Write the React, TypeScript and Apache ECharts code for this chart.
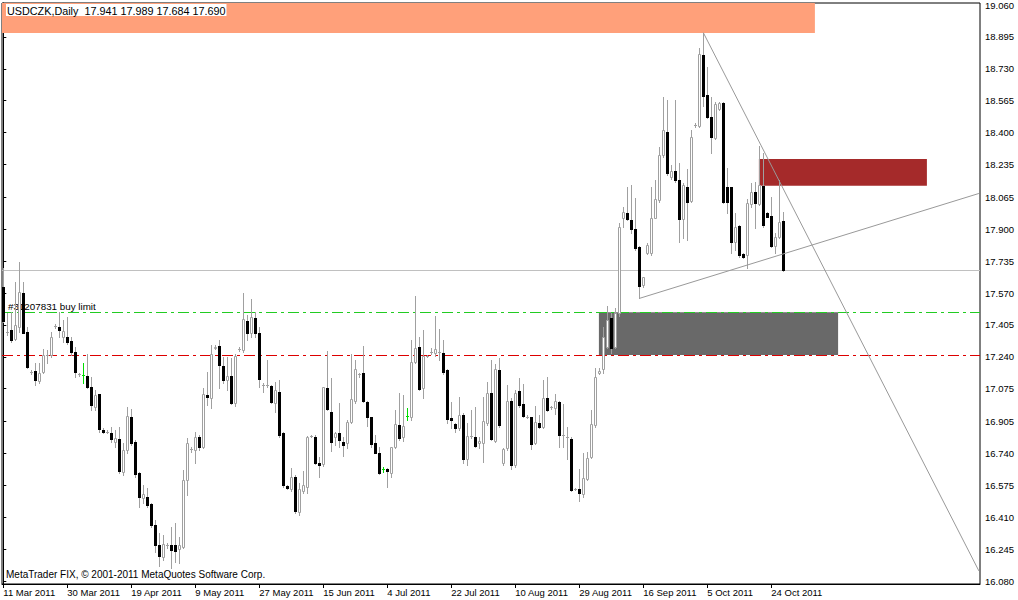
import React, { useEffect, useRef } from 'react';
import * as echarts from 'echarts';

const titleText = 'USDCZK,Daily  17.941 17.989 17.684 17.690';
const copyrightText = 'MetaTrader FIX, © 2001-2011 MetaQuotes Software Corp.';
const orderText = '#31207831 buy limit';

const dateLabels = [
  '11 Mar 2011', '30 Mar 2011', '19 Apr 2011', '9 May 2011', '27 May 2011', '15 Jun 2011',
  '4 Jul 2011', '22 Jul 2011', '10 Aug 2011', '29 Aug 2011', '16 Sep 2011', '5 Oct 2011', '24 Oct 2011',
];
const barsPerLabel = 16;

const priceTicks = [
  19.06, 18.895, 18.73, 18.565, 18.4, 18.235, 18.065, 17.9, 17.735, 17.57,
  17.405, 17.24, 17.075, 16.905, 16.74, 16.575, 16.41, 16.245, 16.08,
];

const yMin = 16.0645;
const yMax = 19.0703;
const xMin = -0.325;
const xMax = 244.175;

const currentPrice = 17.69;
const buyLimitPrice = 17.47;
const stopPrice = 17.25;
const greenDojiBars = [20, 95, 101];

// [open, high, low, close]
const ohlc: number[][] = [
  [17.603, 17.698, 17.422, 17.427], [17.37, 17.465, 17.353, 17.37], [17.379, 17.473, 17.318, 17.327],
  [17.33, 17.629, 17.327, 17.404], [17.396, 17.729, 17.37, 17.577], [17.572, 17.629, 17.361, 17.361],
  [17.37, 17.396, 17.18, 17.185], [17.16, 17.172, 17.151, 17.16], [17.168, 17.206, 17.094, 17.12],
  [17.116, 17.206, 17.106, 17.154], [17.163, 17.279, 17.154, 17.249], [17.247, 17.275, 17.206, 17.247],
  [17.249, 17.37, 17.241, 17.341], [17.399, 17.41, 17.387, 17.399], [17.392, 17.473, 17.341, 17.379],
  [17.341, 17.43, 17.318, 17.375], [17.341, 17.448, 17.306, 17.318], [17.323, 17.344, 17.249, 17.266],
  [17.266, 17.292, 17.137, 17.163], [17.151, 17.158, 17.141, 17.151], [17.146, 17.206, 17.103, 17.146],
  [17.141, 17.254, 17.077, 17.085], [17.085, 17.134, 16.965, 16.99], [16.982, 17.068, 16.965, 17.041],
  [17.048, 17.048, 16.853, 16.865], [16.861, 16.87, 16.844, 16.853], [16.853, 16.861, 16.844, 16.853],
  [16.847, 16.878, 16.801, 16.813], [16.801, 16.861, 16.775, 16.818], [16.813, 16.878, 16.64, 16.651],
  [16.646, 16.792, 16.628, 16.758], [16.758, 16.982, 16.74, 16.934], [16.927, 16.968, 16.784, 16.796],
  [16.801, 16.809, 16.62, 16.634], [16.637, 16.646, 16.464, 16.513], [16.508, 16.577, 16.482, 16.53],
  [16.513, 16.559, 16.461, 16.473], [16.478, 16.482, 16.361, 16.37], [16.37, 16.396, 16.232, 16.266],
  [16.266, 16.327, 16.157, 16.209], [16.206, 16.318, 16.188, 16.271], [16.266, 16.278, 16.249, 16.266],
  [16.266, 16.361, 16.145, 16.24], [16.266, 16.378, 16.18, 16.237], [16.244, 16.309, 16.171, 16.266],
  [16.257, 16.654, 16.249, 16.602], [16.602, 16.818, 16.525, 16.796], [16.761, 16.775, 16.749, 16.761],
  [16.758, 16.853, 16.689, 16.827], [16.827, 16.835, 16.758, 16.775], [16.775, 17.077, 16.766, 17.048],
  [17.042, 17.163, 16.99, 17.03], [17.025, 17.301, 16.973, 17.254], [17.287, 17.301, 17.279, 17.291],
  [17.296, 17.327, 17.077, 17.198], [17.192, 17.237, 17.106, 17.12], [17.12, 17.241, 17.068, 17.141],
  [17.141, 17.232, 16.996, 17.003], [16.999, 17.254, 16.985, 17.244], [17.282, 17.292, 17.272, 17.282],
  [17.275, 17.568, 17.266, 17.434], [17.427, 17.456, 17.327, 17.361], [17.361, 17.537, 17.341, 17.448],
  [17.439, 17.473, 17.344, 17.365], [17.361, 17.396, 17.085, 17.123], [17.094, 17.103, 17.06, 17.094],
  [17.094, 17.223, 17.085, 17.094], [17.089, 17.094, 17.003, 17.008], [17.003, 17.111, 16.956, 17.068],
  [17.06, 17.12, 16.827, 16.834], [16.847, 16.853, 16.568, 16.578], [16.57, 16.577, 16.554, 16.56],
  [16.554, 16.663, 16.547, 16.616], [16.62, 16.628, 16.43, 16.442], [16.435, 16.585, 16.421, 16.554],
  [16.547, 16.651, 16.534, 16.577], [16.568, 16.83, 16.534, 16.823], [16.832, 16.835, 16.827, 16.832],
  [16.827, 16.835, 16.685, 16.692], [16.689, 16.723, 16.62, 16.678], [16.684, 17.085, 16.675, 17.082],
  [17.077, 17.272, 16.965, 16.968], [16.956, 17.129, 16.754, 16.801], [16.827, 16.853, 16.784, 16.844],
  [16.847, 17.003, 16.775, 16.81], [16.801, 16.827, 16.727, 16.784], [16.792, 16.913, 16.766, 16.904],
  [16.904, 17.254, 16.899, 17.02], [17.013, 17.223, 17.003, 17.175], [17.149, 17.158, 17.137, 17.149],
  [17.154, 17.296, 17.008, 17.013], [17.008, 17.013, 16.882, 16.93], [16.93, 16.93, 16.775, 16.787],
  [16.792, 16.835, 16.74, 16.744], [16.74, 16.775, 16.634, 16.637], [16.659, 16.672, 16.646, 16.659],
  [16.658, 16.663, 16.568, 16.647], [16.641, 16.775, 16.62, 16.772], [16.772, 16.965, 16.766, 16.891],
  [16.887, 17.051, 16.809, 16.818], [16.823, 17.042, 16.806, 16.884], [16.934, 16.973, 16.913, 16.934],
  [16.927, 17.327, 16.913, 17.211], [17.215, 17.555, 17.21, 17.284], [17.292, 17.344, 17.068, 17.072],
  [17.077, 17.379, 17.025, 17.244], [17.244, 17.249, 17.237, 17.244], [17.266, 17.284, 17.254, 17.266],
  [17.258, 17.451, 17.244, 17.279], [17.266, 17.382, 17.223, 17.266], [17.261, 17.327, 17.151, 17.163],
  [17.172, 17.175, 16.899, 16.916], [16.922, 17.008, 16.87, 16.913], [16.892, 16.899, 16.853, 16.87],
  [16.873, 17.03, 16.861, 16.939], [16.939, 16.947, 16.689, 16.709], [16.709, 16.896, 16.68, 16.83],
  [16.83, 16.965, 16.818, 16.83], [16.823, 16.982, 16.775, 16.778], [16.792, 16.827, 16.766, 16.806],
  [16.796, 17.03, 16.697, 16.91], [16.899, 17.111, 16.887, 17.051], [17.054, 17.223, 16.809, 16.813],
  [16.806, 17.203, 16.801, 17.175], [17.172, 17.232, 16.878, 16.885], [16.692, 16.766, 16.68, 16.761],
  [16.766, 17.094, 16.758, 17.013], [17.013, 17.025, 16.658, 16.678], [16.68, 17.068, 16.672, 17.051],
  [17.061, 17.129, 16.982, 16.989], [16.996, 17.099, 16.93, 16.934], [16.93, 16.939, 16.922, 16.93],
  [16.927, 16.927, 16.761, 16.789], [16.792, 16.985, 16.789, 16.904], [16.899, 16.939, 16.87, 16.875],
  [16.878, 17.12, 16.87, 17.025], [17.025, 17.137, 16.961, 16.965], [16.978, 16.985, 16.972, 16.978],
  [16.973, 17.047, 16.944, 17.013], [17.008, 17.013, 16.775, 16.834], [16.837, 16.996, 16.775, 16.837],
  [16.827, 16.878, 16.709, 16.827], [16.816, 16.827, 16.547, 16.551], [16.556, 16.559, 16.551, 16.556],
  [16.558, 16.658, 16.496, 16.534], [16.53, 16.744, 16.516, 16.611], [16.606, 16.749, 16.603, 16.715],
  [16.72, 16.965, 16.715, 16.891], [16.889, 17.18, 16.878, 17.137], [17.158, 17.18, 17.151, 17.168],
  [17.175, 17.392, 17.158, 17.341], [17.292, 17.503, 17.284, 17.43], [17.439, 17.468, 17.258, 17.284],
  [17.292, 17.491, 17.284, 17.468], [17.465, 17.93, 17.45, 17.913], [17.956, 18.017, 17.913, 17.991],
  [17.982, 18.12, 17.948, 17.951], [17.948, 18.129, 17.879, 17.899], [17.899, 18.06, 17.792, 17.801],
  [17.81, 17.813, 17.542, 17.606], [17.611, 17.655, 17.603, 17.651], [17.775, 17.83, 17.77, 17.818],
  [17.775, 18.12, 17.767, 17.956], [17.956, 18.155, 17.956, 18.055], [18.051, 18.327, 18.043, 18.284],
  [18.284, 18.582, 18.275, 18.413], [18.405, 18.569, 18.18, 18.189], [18.172, 18.232, 18.158, 18.203],
  [18.203, 18.569, 18.146, 18.155], [18.155, 18.241, 17.836, 17.951], [17.951, 18.141, 17.853, 18.129],
  [18.12, 18.21, 17.844, 18.042], [18.047, 18.413, 18.043, 18.375], [18.439, 18.451, 18.427, 18.439],
  [18.434, 18.836, 18.431, 18.807], [18.801, 18.917, 18.538, 18.589], [18.594, 18.741, 18.474, 18.479],
  [18.482, 18.582, 18.296, 18.379], [18.37, 18.56, 18.365, 18.548], [18.52, 18.56, 18.517, 18.555],
  [18.555, 18.56, 18.037, 18.043], [18.12, 18.215, 17.986, 18.043], [18.12, 18.12, 17.775, 17.836],
  [17.836, 17.982, 17.792, 17.913], [17.917, 17.922, 17.758, 17.767], [17.77, 17.775, 17.749, 17.755],
  [17.767, 18.055, 17.698, 18.034], [18.03, 18.137, 18.017, 18.094], [18.094, 18.146, 17.905, 18.034],
  [18.03, 18.331, 18.025, 18.129], [18.125, 18.293, 17.913, 17.922], [17.982, 17.991, 17.962, 17.965],
  [17.968, 18.068, 17.806, 17.813], [17.813, 17.879, 17.775, 17.861], [17.861, 18.155, 17.853, 17.939],
  [17.941, 17.989, 17.684, 17.69],
];

// rectangles: [fromBar, toBar, topPrice, bottomPrice]
const headerZone = [xMin, 202.9, yMax, 18.915];
const resistanceZone = [188.9, 230.9, 18.263, 18.125];
const orderZone = [148.9, 208.7, 17.47, 17.249];

// trend lines: [bar, price] pairs
const fallingTrend = [[175, 18.917], [243.9, 16.132]];
const risingTrend = [[159, 17.542], [243.9, 18.085]];

const FONT = '"Liberation Sans", Arial, sans-serif';

export default function App() {
  const ref = useRef<HTMLDivElement>(null);
  useEffect(() => {
    document.body.style.margin = '0';
    if (!ref.current) return;
    const chart = echarts.init(ref.current, undefined, { renderer: 'svg' });
    const labelPositions = dateLabels.map((_, k) => k * barsPerLabel);
    const candleData = ohlc.map((r, i) => [i, r[0], r[1], r[2], r[3], greenDojiBars.includes(i) ? 1 : 0]);
    const levelStyles = [
      { stroke: '#C0C0C0', lineDash: null as any },
      { stroke: '#22CC22', lineDash: [11, 4, 3, 4] },
      { stroke: '#DD0000', lineDash: [11, 4, 3, 4] },
    ];
    const levelData = [[currentPrice, 0], [buyLimitPrice, 1], [stopPrice, 2]];
    const zoneArea = (z: number[], color: string) => [
      { coord: [z[0], z[2]], itemStyle: { color, opacity: 1, borderWidth: 0 } },
      { coord: [z[1], z[3]] },
    ];
    const option: any = {
      animation: false,
      backgroundColor: '#fff',
      textStyle: { fontFamily: FONT },
      grid: {
        left: 2, top: 3, width: 978, height: 581, show: true,
        borderColor: '#000', borderWidth: 1, backgroundColor: '#fff',
      },
      xAxis: {
        type: 'value', min: xMin, max: xMax,
        splitLine: { show: false },
        axisLine: { show: true, lineStyle: { color: '#000', width: 1 } },
        axisTick: { show: true, length: 4, customValues: labelPositions, lineStyle: { color: '#000' } },
        axisLabel: {
          customValues: labelPositions,
          formatter: (v: number) => dateLabels[Math.round(v / barsPerLabel)] ?? '',
          align: 'left', margin: 3, color: '#000', fontSize: 9.5, fontFamily: FONT,
        },
      },
      yAxis: {
        type: 'value', position: 'right', min: yMin, max: yMax,
        splitLine: { show: false },
        axisLine: { show: true, lineStyle: { color: '#000', width: 1 } },
        axisTick: { show: true, length: 3, customValues: priceTicks, lineStyle: { color: '#000' } },
        axisLabel: {
          customValues: priceTicks,
          formatter: (v: number) => v.toFixed(3),
          margin: 5, color: '#000', fontSize: 9.5, fontFamily: FONT,
        },
      },
      series: [
        {
          name: 'zones', type: 'line', data: [], z: 1, silent: true,
          markArea: {
            silent: true,
            data: [
              zoneArea(headerZone, '#FFA07A'),
              zoneArea(resistanceZone, '#A52A2A'),
              zoneArea(orderZone, '#696969'),
            ],
          },
        },
        {
          name: 'price label', type: 'line', data: [], z: 2, silent: true,
          markLine: {
            silent: true, symbol: ['none', 'none'],
            lineStyle: { color: '#C0C0C0', type: 'solid', width: 1, opacity: 0 },
            label: {
              show: true, position: 'end', distance: 2,
              formatter: () => currentPrice.toFixed(3),
              backgroundColor: '#000', color: '#fff', padding: [1, 2, 0, 2],
              fontSize: 9.5, fontFamily: FONT,
            },
            data: [{ yAxis: currentPrice }],
          },
        },
        {
          name: 'levels', type: 'custom', z: 2, silent: true,
          data: levelData,
          encode: { y: 0 },
          renderItem: (p: any, api: any) => {
            const v = api.value(0);
            const s = levelStyles[api.value(1)];
            const a = api.coord([xMin, v]);
            const b = api.coord([xMax, v]);
            const y = Math.round(a[1]) + 0.5;
            return {
              type: 'line', z2: p.dataIndex === 0 ? 1 : 5,
              shape: { x1: a[0], y1: y, x2: b[0], y2: y },
              style: { stroke: s.stroke, lineWidth: 1, lineDash: s.lineDash },
            };
          },
        },
        {
          name: 'candles', type: 'custom', z: 3, silent: true,
          data: candleData,
          encode: { x: 0, y: [1, 2, 3, 4] },
          renderItem: (_p: any, api: any) => {
            const i = api.value(0);
            const o = api.value(1), h = api.value(2), l = api.value(3), c = api.value(4);
            const green = api.value(5) === 1;
            const pO = api.coord([i, o]);
            const col = Math.floor(pO[0]);
            const xc = col + 0.5;
            const yH = Math.round(api.coord([i, h])[1]);
            const yL = Math.round(api.coord([i, l])[1]);
            const yO = Math.round(pO[1]);
            const yC = Math.round(api.coord([i, c])[1]);
            const wick = green ? '#00DD00' : '#A0A0A0';
            const children: any[] = [
              { type: 'line', shape: { x1: xc, y1: yH, x2: xc, y2: yL + 1 }, style: { stroke: wick, lineWidth: 1 } },
            ];
            const top = Math.min(yO, yC);
            const bot = Math.max(yO, yC);
            if (bot - top < 1) {
              children.push({
                type: 'line', shape: { x1: col - 1, y1: top + 0.5, x2: col + 2, y2: top + 0.5 },
                style: { stroke: wick, lineWidth: 1 },
              });
            } else if (c > o) {
              children.push({
                type: 'rect', shape: { x: col - 0.5, y: top + 0.5, width: 2, height: bot - top },
                style: { fill: '#fff', stroke: '#A0A0A0', lineWidth: 1 },
              });
            } else {
              children.push({
                type: 'rect', shape: { x: col - 1, y: top, width: 3, height: bot - top + 1 },
                style: { fill: '#000' },
              });
            }
            return { type: 'group', children };
          },
        },
        {
          name: 'falling', type: 'line', z: 5, silent: true, symbol: 'none',
          data: fallingTrend, lineStyle: { color: '#999', width: 1 },
        },
        {
          name: 'rising', type: 'line', z: 5, silent: true, symbol: 'none',
          data: risingTrend, lineStyle: { color: '#999', width: 1 },
        },
      ],
      graphic: [
        {
          type: 'text', left: 6, top: 4, z: 20,
          style: {
            text: titleText, fontSize: 10.8, fontFamily: FONT, fill: '#000',
            backgroundColor: '#fff', padding: [1, 1, 0, 1],
          },
        },
        {
          type: 'text', left: 8, top: 301, z: 2,
          style: { text: orderText, fontSize: 9.8, fontFamily: FONT, fill: '#000' },
        },
        {
          type: 'text', left: 6, top: 569, z: 20,
          style: { text: copyrightText, fontSize: 10, fontFamily: FONT, fill: '#000' },
        },
      ],
    };
    chart.setOption(option);
    return () => chart.dispose();
  }, []);
  return <div ref={ref} style={{ width: 1018, height: 600 }} />;
}
